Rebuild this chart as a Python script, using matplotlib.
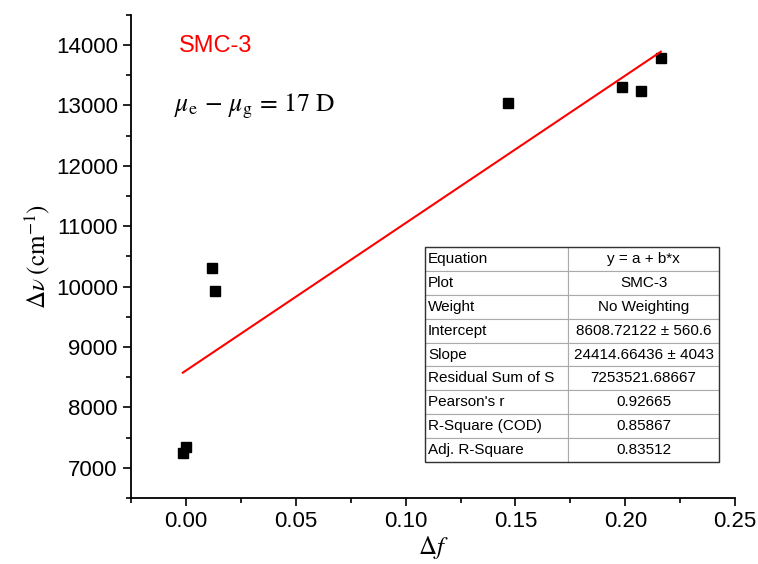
import matplotlib
matplotlib.use('Agg')
import numpy as np
import matplotlib.pyplot as plt
from matplotlib.ticker import MultipleLocator
from matplotlib.patches import Rectangle

plt.rcParams['font.family'] = ['Liberation Sans', 'DejaVu Sans']
plt.rcParams['mathtext.fontset'] = 'stix'

# data
delta_f = [-0.0014, 0.0000, 0.0121, 0.0132, 0.1467, 0.1985, 0.2073, 0.2162]
delta_nu = [7240, 7350, 10310, 9920, 13040, 13300, 13230, 13790]

intercept = 8608.72122
slope = 24414.66436

table_keys = ['Equation', 'Plot', 'Weight', 'Intercept', 'Slope',
              'Residual Sum of S', "Pearson's r", 'R-Square (COD)', 'Adj. R-Square']
table_vals = ['y = a + b*x', 'SMC-3', 'No Weighting', '8608.72122 \u00b1 560.6',
              '24414.66436 \u00b1 4043', '7253521.68667', '0.92665', '0.85867', '0.83512']

fig = plt.figure(figsize=(7.58, 5.64), dpi=100)
ax = fig.add_axes([0.1728, 0.117, 0.797, 0.857])

ax.plot(delta_f, delta_nu, 's', color='black', markersize=7)
xfit = np.array([min(delta_f), max(delta_f)])
ax.plot(xfit, intercept + slope * xfit, color='red', linewidth=1.5)

ax.set_xlim(-0.025, 0.25)
ax.set_ylim(6500, 14500)
ax.xaxis.set_major_locator(MultipleLocator(0.05))
ax.xaxis.set_minor_locator(MultipleLocator(0.025))
ax.yaxis.set_major_locator(MultipleLocator(1000))
ax.yaxis.set_minor_locator(MultipleLocator(500))
ax.xaxis.set_major_formatter(plt.FuncFormatter(lambda v, p: '%.2f' % v))
ax.spines['top'].set_visible(False)
ax.spines['right'].set_visible(False)
for s in ['left', 'bottom']:
    ax.spines[s].set_linewidth(1.3)
ax.tick_params(which='major', direction='out', length=6, width=1.2, labelsize=16)
ax.tick_params(which='minor', direction='out', length=3.5, width=1.2)

ax.set_xlabel(r'$\Delta f$', fontsize=18, labelpad=1)
ax.set_ylabel(r'$\Delta\nu\;(\mathrm{cm}^{-1})$', fontsize=18, labelpad=3)

ax.text(0.08, 0.935, 'SMC-3', color='red', fontsize=17, transform=ax.transAxes,
        ha='left', va='center')
ax.text(0.072, 0.81, r'$\mu_\mathrm{e}\,-\,\mu_\mathrm{g}\,=\,17\ \mathrm{D}$', fontsize=18.5,
        transform=ax.transAxes, ha='left', va='center')

# fit result table
tb = ax.table(cellText=[[k, v] for k, v in zip(table_keys, table_vals)],
              colWidths=[0.237, 0.25], cellLoc='center',
              bbox=[0.4868, 0.0745, 0.4867, 0.4448])
tb.auto_set_font_size(False)
tb.set_fontsize(11)
for (r, c), cell in tb.get_celld().items():
    cell.set_edgecolor('#aaaaaa')
    cell.set_linewidth(0.8)
    if c == 0:
        cell.PAD = 0.02
        cell.get_text().set_ha('left')
ax.add_patch(Rectangle((0.4868, 0.0745), 0.4867, 0.4448, transform=ax.transAxes,
                       fill=False, edgecolor='#333333', linewidth=1.0, zorder=5))

fig.savefig('out.png', dpi=100)
